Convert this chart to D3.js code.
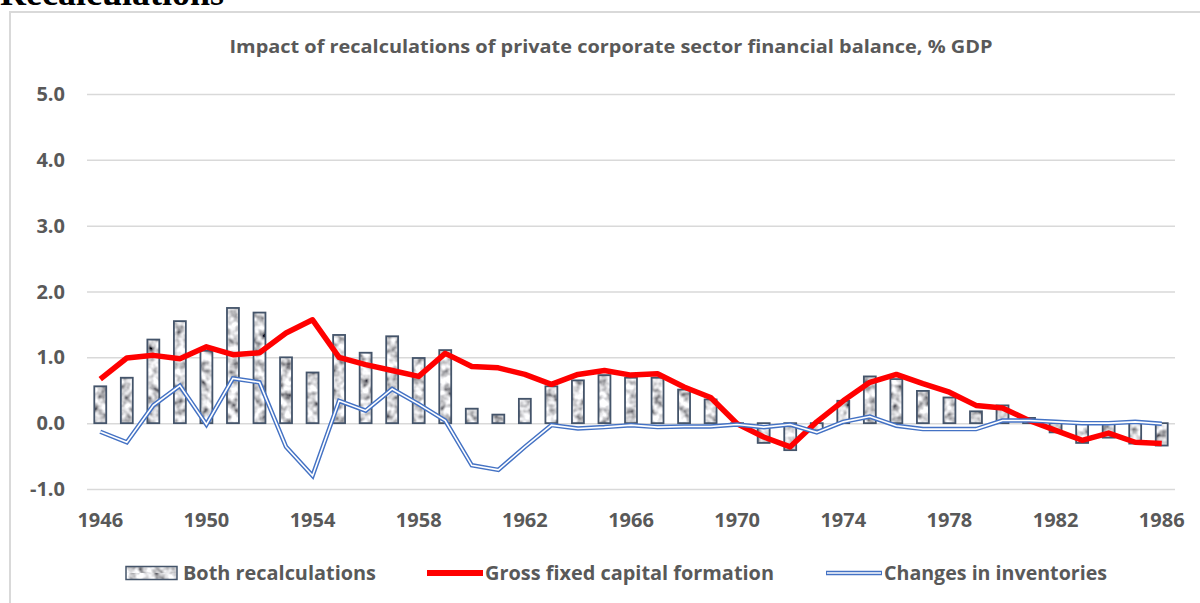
<!DOCTYPE html>
<html>
<head>
<meta charset="utf-8">
<script src="https://cdn.jsdelivr.net/npm/d3@7"></script>
<style>
  body { margin: 0; background: #fff; }
  svg { display: block; }
</style>
</head>
<body>
<svg></svg>
<script>
const width = 1200;
const height = 603;
const margin = { top: 94, right: 25, bottom: 114, left: 87 };

const years = d3.range(1946, 1987);
const tickYears = [1946, 1950, 1954, 1958, 1962, 1966, 1970, 1974, 1978, 1982, 1986];
const yTicks = [-1, 0, 1, 2, 3, 4, 5];

const both = [0.56, 0.69, 1.27, 1.55, 1.10, 1.75, 1.68, 1.00, 0.77,
  1.34, 1.07, 1.32, 0.99, 1.11, 0.22, 0.13, 0.37, 0.56,
  0.65, 0.73, 0.69, 0.69, 0.51, 0.36, -0.02, -0.30, -0.41,
  -0.11, 0.34, 0.71, 0.67, 0.49, 0.39, 0.18, 0.27, 0.08, -0.14, -0.30, -0.22, -0.31, -0.34];

const gfcf = [0.67, 0.99, 1.03, 0.98, 1.16, 1.04, 1.07, 1.37, 1.57,
  1.00, 0.89, 0.80, 0.71, 1.06, 0.86, 0.84, 0.74, 0.59,
  0.74, 0.80, 0.73, 0.75, 0.55, 0.39, -0.01, -0.21, -0.36,
  0.02, 0.34, 0.62, 0.74, 0.60, 0.47, 0.27, 0.23, 0.04, -0.11, -0.26, -0.15, -0.29, -0.31];

const inventories = [-0.13, -0.29, 0.27, 0.57, -0.02, 0.68, 0.62, -0.36, -0.80,
  0.34, 0.19, 0.52, 0.29, 0.04, -0.64, -0.71, -0.36, -0.03,
  -0.08, -0.06, -0.03, -0.06, -0.05, -0.05, -0.02, -0.06, -0.02,
  -0.14, 0.02, 0.10, -0.04, -0.09, -0.09, -0.09, 0.04, 0.04, 0.02, 0.00, 0.00, 0.02, -0.01];

const font = '"Open Sans", "Noto Sans", sans-serif';
const grey = "#595959";

const svg = d3.select("svg")
  .attr("width", width)
  .attr("height", height)
  .style("font-family", font);

// mottled texture for the bars
const defs = svg.append("defs");
const filt = defs.append("filter")
  .attr("id", "mottle")
  .attr("x", 0).attr("y", 0).attr("width", 1).attr("height", 1);
filt.append("feTurbulence")
  .attr("type", "fractalNoise")
  .attr("baseFrequency", 0.13)
  .attr("numOctaves", 2)
  .attr("seed", 7);
filt.append("feColorMatrix")
  .attr("type", "matrix")
  .attr("values", "1.9 0 0 0 -0.28  1.9 0 0 0 -0.28  1.9 0 0 0 -0.26  0 0 0 0 1");

const pat = defs.append("pattern")
  .attr("id", "tex")
  .attr("patternUnits", "userSpaceOnUse")
  .attr("width", width).attr("height", height);
pat.append("rect")
  .attr("width", width).attr("height", height)
  .attr("filter", "url(#mottle)");

// page heading cut off at the top, and chart frame
svg.append("text")
  .attr("x", 0).attr("y", 5)
  .style("font-family", '"Liberation Serif", serif')
  .style("font-weight", 700)
  .style("font-size", "36px")
  .attr("fill", "#000")
  .text("Recalculations");

svg.append("rect")
  .attr("x", 10).attr("y", 12)
  .attr("width", 1300).attr("height", 700)
  .attr("fill", "none")
  .attr("stroke", "#d9d9d9")
  .attr("stroke-width", 2);

svg.append("text")
  .attr("x", 611).attr("y", 53)
  .attr("text-anchor", "middle")
  .attr("fill", grey)
  .style("font-size", "18px")
  .style("font-weight", 700)
  .attr("textLength", 763)
  .attr("lengthAdjust", "spacingAndGlyphs")
  .text("Impact of recalculations of private corporate sector financial balance, % GDP");

const x = d3.scaleBand()
  .domain(years)
  .range([margin.left, width - margin.right])
  .paddingInner(0.55)
  .paddingOuter(0.275);

const y = d3.scaleLinear()
  .domain([-1, 5])
  .range([height - margin.bottom, margin.top]);

const cx = d => x(d) + x.bandwidth() / 2;

// gridlines
svg.append("g")
  .attr("class", "grid")
  .attr("transform", `translate(${margin.left},0)`)
  .call(d3.axisLeft(y)
    .tickValues(yTicks)
    .tickSize(-(width - margin.left - margin.right))
    .tickFormat("")
  );
svg.selectAll(".grid line").attr("stroke", "#d9d9d9").attr("stroke-width", 1.5);
svg.selectAll(".grid path").attr("stroke", "none");

// y labels (plain hyphen for negatives, as in the source)
svg.append("g")
  .selectAll("text")
  .data(yTicks)
  .enter()
  .append("text")
  .attr("x", 65)
  .attr("y", d => y(d) + 7)
  .attr("text-anchor", "end")
  .attr("fill", grey)
  .style("font-size", "20px")
  .style("font-weight", 700)
  .text(d => d.toFixed(1));

// x labels
svg.append("g")
  .selectAll("text")
  .data(tickYears)
  .enter()
  .append("text")
  .attr("x", d => cx(d))
  .attr("y", 527)
  .attr("text-anchor", "middle")
  .attr("fill", grey)
  .style("font-size", "20px")
  .style("font-weight", 700)
  .text(d => d);

// bars
svg.append("g")
  .selectAll("rect")
  .data(years)
  .enter()
  .append("rect")
  .attr("x", d => x(d))
  .attr("width", x.bandwidth())
  .attr("y", (d, i) => y(Math.max(0, both[i])))
  .attr("height", (d, i) => Math.abs(y(both[i]) - y(0)))
  .attr("fill", "url(#tex)")
  .attr("stroke", "#44546a")
  .attr("stroke-width", 1.8);

// lines
const line = d3.line()
  .x(d => cx(d[0]))
  .y(d => y(d[1]));

svg.append("path")
  .datum(years.map((d, i) => [d, gfcf[i]]))
  .attr("d", line)
  .attr("fill", "none")
  .attr("stroke", "#ff0000")
  .attr("stroke-width", 5.5)
  .attr("stroke-linejoin", "round");

const invData = years.map((d, i) => [d, inventories[i]]);
svg.append("path")
  .datum(invData)
  .attr("d", line)
  .attr("fill", "none")
  .attr("stroke", "#4472c4")
  .attr("stroke-width", 4.5);
svg.append("path")
  .datum(invData)
  .attr("d", line)
  .attr("fill", "none")
  .attr("stroke", "#fff")
  .attr("stroke-width", 1.6);

// legend
const legend = svg.append("g").attr("transform", "translate(0,573)");

legend.append("rect")
  .attr("x", 126).attr("y", -6.5)
  .attr("width", 51).attr("height", 13)
  .attr("fill", "url(#tex)")
  .attr("stroke", "#44546a")
  .attr("stroke-width", 1.5);

legend.append("line")
  .attr("x1", 427).attr("x2", 483)
  .attr("stroke", "#ff0000")
  .attr("stroke-width", 6);

legend.append("line")
  .attr("x1", 826).attr("x2", 882)
  .attr("stroke", "#4472c4")
  .attr("stroke-width", 4.5);
legend.append("line")
  .attr("x1", 827).attr("x2", 881)
  .attr("stroke", "#fff")
  .attr("stroke-width", 1.6);

const legendItems = [
  { x: 183, w: 193, label: "Both recalculations" },
  { x: 485, w: 289, label: "Gross fixed capital formation" },
  { x: 884, w: 223, label: "Changes in inventories" }
];

legend.selectAll("text.lbl")
  .data(legendItems)
  .enter()
  .append("text")
  .attr("class", "lbl")
  .attr("x", d => d.x)
  .attr("y", 7)
  .attr("fill", grey)
  .style("font-size", "20px")
  .style("font-weight", 700)
  .attr("textLength", d => d.w)
  .attr("lengthAdjust", "spacingAndGlyphs")
  .text(d => d.label);
</script>
</body>
</html>
